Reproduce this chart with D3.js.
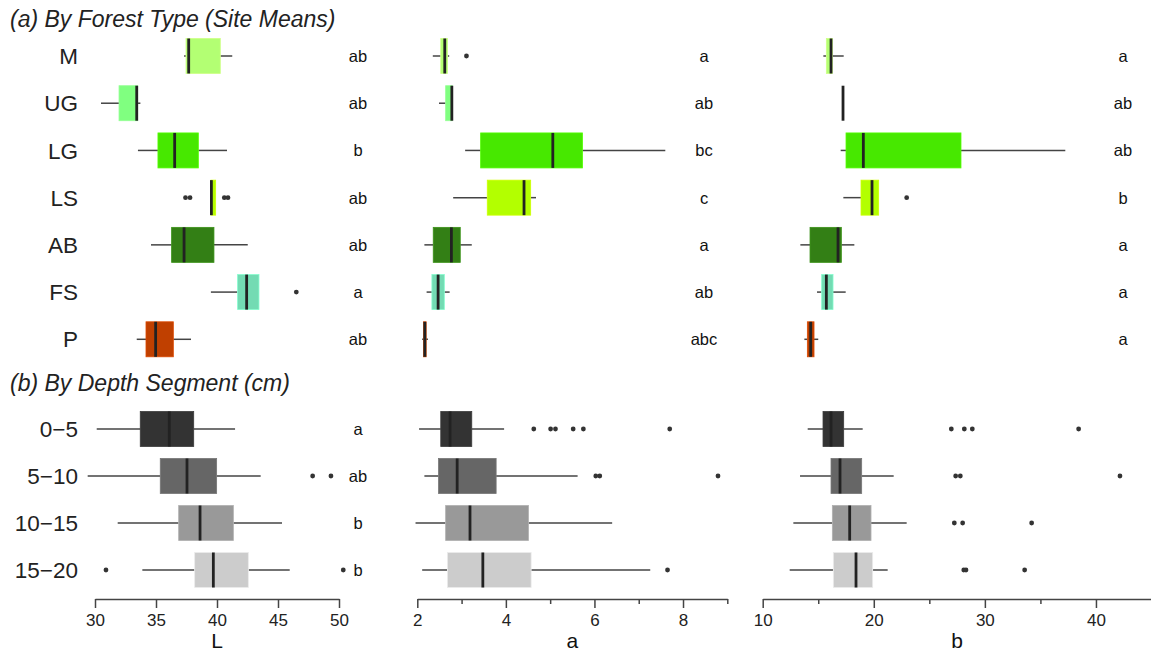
<!DOCTYPE html>
<html>
<head>
<meta charset="utf-8">
<script src="https://cdn.jsdelivr.net/npm/d3@7"></script>
<style>
  html, body { margin: 0; padding: 0; background: #fff; }
  svg { display: block; font-family: "Liberation Sans", Arial, sans-serif; }
</style>
</head>
<body>
<svg id="chart" width="1151" height="653"></svg>
<script>
// ---- Data -------------------------------------------------------------
// Summaries per group: [lower whisker, Q1, median, Q3, upper whisker]

const forestTypes = ["M", "UG", "LG", "LS", "AB", "FS", "P"];
const forestFills = ["#b3ff73", "#80ff80", "#47e800", "#b3ff00", "#337f15", "#73dbb3", "#c04000"];

const forestL = [
  [37.30, 37.46, 37.68, 40.27, 41.25],
  [30.49, 31.97, 33.42, 33.50, 33.72],
  [33.52, 35.16, 36.53, 38.47, 40.82],
  [39.50, 39.50, 39.54, 39.89, 39.89],
  [34.59, 36.28, 37.30, 39.75, 42.52],
  [39.50, 41.69, 42.43, 43.44, 43.44],
  [33.42, 34.18, 34.97, 36.42, 37.87]
];
const forestLOutliers = [[], [], [], [37.42, 37.79, 40.60, 40.90], [], [46.50], []];
const forestLLetters = ["ab", "ab", "b", "ab", "ab", "a", "ab"];

const forestA = [
  [2.35, 2.53, 2.62, 2.68, 2.72],
  [2.49, 2.64, 2.78, 2.79, 2.79],
  [3.08, 3.43, 5.06, 5.73, 7.60],
  [2.81, 3.58, 4.41, 4.56, 4.68],
  [2.16, 2.36, 2.77, 2.97, 3.23],
  [2.21, 2.33, 2.47, 2.61, 2.73],
  [2.11, 2.14, 2.17, 2.20, 2.24]
];
const forestAOutliers = [[3.11], [], [], [], [], [], []];
const forestALetters = ["a", "ab", "bc", "c", "a", "ab", "abc"];

const forestB = [
  [15.46, 15.73, 16.15, 16.27, 17.29],
  [17.23, 17.23, 17.23, 17.23, 17.23],
  [17.02, 17.50, 19.06, 27.85, 37.24],
  [17.26, 18.85, 19.84, 20.44, 20.44],
  [13.39, 14.26, 16.78, 17.08, 18.25],
  [14.89, 15.31, 15.73, 16.33, 17.47],
  [13.75, 14.02, 14.32, 14.62, 15.00]
];
const forestBOutliers = [[], [], [], [22.96], [], [], []];
const forestBLetters = ["a", "ab", "ab", "b", "a", "a", "a"];

const depthSegments = ["0\u22125", "5\u221210", "10\u221215", "15\u221220"];
const depthFills = ["#333333", "#666666", "#999999", "#cccccc"];

const depthL = [
  [30.14, 33.71, 36.09, 38.09, 41.48],
  [29.40, 35.35, 37.54, 39.97, 43.58],
  [31.86, 36.86, 38.61, 41.34, 45.33],
  [33.88, 38.17, 39.70, 42.57, 45.96]
];
const depthLOutliers = [[], [47.84, 49.34], [], [30.90, 50.35]];
const depthLLetters = ["a", "ab", "b", "b"];

const depthA = [
  [2.04, 2.53, 2.74, 3.23, 3.96],
  [2.16, 2.48, 2.90, 3.78, 5.62],
  [1.96, 2.64, 3.19, 4.51, 6.40],
  [2.11, 2.68, 3.48, 4.57, 7.26]
];
const depthAOutliers = [[4.63, 5.01, 5.12, 5.52, 5.75, 7.70], [6.03, 6.12, 8.79], [], [7.65]];

const depthB = [
  [14.05, 15.43, 16.15, 17.29, 19.00],
  [13.36, 16.15, 16.96, 18.91, 21.79],
  [12.76, 16.27, 17.83, 19.75, 22.96],
  [12.43, 16.36, 18.40, 19.90, 21.25]
];
const depthBOutliers = [[26.98, 28.15, 28.87, 38.44], [27.37, 27.79, 42.16], [27.25, 28.00, 34.21], [28.10, 28.30, 33.58]];

// Axis ticks and titles
const axisTitles = ["L", "a", "b"];
const axisDomains = [[30, 50], [2, 9], [10, 45]];
const majorTicks = [[30, 35, 40, 45, 50], [2, 4, 6, 8], [10, 20, 30, 40]];
const minorTicks = [[], [3, 5, 7, 9], [15, 25, 35, 45]];

// ---- Layout -----------------------------------------------------------
const svg = d3.select("#chart");
const colRanges = [[95, 339], [417.3, 727.3], [762.7, 1151.5]];
const letterX = [358, 704, 1123];
const axisY = 599;
const boxHalf = 17.5;

const xScales = axisDomains.map((d, i) => d3.scaleLinear().domain(d).range(colRanges[i]));
const yTop = d3.scalePoint().domain(forestTypes).range([56, 339.3]);
const yBottom = d3.scalePoint().domain(depthSegments).range([429, 570]);

function drawBoxes(g, x, y, cats, stats, outliers, fills) {
  cats.forEach((c, i) => {
    const s = stats[i];
    const cy = y(c);
    const grp = g.append("g");
    // whiskers
    grp.append("line")
      .attr("x1", x(s[0])).attr("x2", x(s[1]))
      .attr("y1", cy).attr("y2", cy)
      .attr("stroke", "#444").attr("stroke-width", 1.5);
    grp.append("line")
      .attr("x1", x(s[3])).attr("x2", x(s[4]))
      .attr("y1", cy).attr("y2", cy)
      .attr("stroke", "#444").attr("stroke-width", 1.5);
    // box
    grp.append("rect")
      .attr("x", x(s[1]))
      .attr("y", cy - boxHalf)
      .attr("width", Math.max(0, x(s[3]) - x(s[1])))
      .attr("height", boxHalf * 2)
      .attr("fill", fills[i])
      .attr("stroke", d3.color(fills[i]).brighter(0.4))
      .attr("stroke-width", 0.8);
    // median
    grp.append("line")
      .attr("x1", x(s[2])).attr("x2", x(s[2]))
      .attr("y1", cy - boxHalf).attr("y2", cy + boxHalf)
      .attr("stroke", "#222").attr("stroke-width", 2.8);
    // outliers
    grp.selectAll("circle.out")
      .data(outliers[i])
      .join("circle")
      .attr("class", "out")
      .attr("cx", v => x(v))
      .attr("cy", cy)
      .attr("r", 2.4)
      .attr("fill", "#333");
  });
}

function drawLetters(g, xPos, y, cats, letters) {
  g.selectAll("text.letter")
    .data(cats)
    .join("text")
    .attr("class", "letter")
    .attr("x", xPos)
    .attr("y", c => y(c))
    .attr("dy", "0.36em")
    .attr("text-anchor", "middle")
    .attr("font-size", 16.5)
    .attr("fill", "#111")
    .text((c, i) => letters[i]);
}

function drawRowLabels(g, y, cats) {
  g.selectAll("text.row")
    .data(cats)
    .join("text")
    .attr("class", "row")
    .attr("x", 78)
    .attr("y", c => y(c))
    .attr("dy", "0.36em")
    .attr("text-anchor", "end")
    .attr("font-size", 22.5)
    .attr("fill", "#222")
    .text(c => c);
}

// Titles
svg.append("text")
  .attr("x", 10).attr("y", 27)
  .attr("font-size", 23).attr("font-style", "italic").attr("fill", "#222")
  .text("(a) By Forest Type (Site Means)");
svg.append("text")
  .attr("x", 10).attr("y", 391)
  .attr("font-size", 23).attr("font-style", "italic").attr("fill", "#222")
  .text("(b) By Depth Segment (cm)");

// Upper section: forest types
const forestSection = svg.append("g");
drawRowLabels(forestSection, yTop, forestTypes);
[[forestL, forestLOutliers, forestLLetters],
 [forestA, forestAOutliers, forestALetters],
 [forestB, forestBOutliers, forestBLetters]].forEach(([stats, outs, letters], i) => {
  const g = forestSection.append("g");
  drawBoxes(g, xScales[i], yTop, forestTypes, stats, outs, forestFills);
  drawLetters(g, letterX[i], yTop, forestTypes, letters);
});

// Lower section: depth segments
const depthSection = svg.append("g");
drawRowLabels(depthSection, yBottom, depthSegments);
[[depthL, depthLOutliers], [depthA, depthAOutliers], [depthB, depthBOutliers]].forEach(([stats, outs], i) => {
  const g = depthSection.append("g");
  drawBoxes(g, xScales[i], yBottom, depthSegments, stats, outs, depthFills);
});
drawLetters(depthSection.append("g"), letterX[0], yBottom, depthSegments, depthLLetters);

// Axes
xScales.forEach((x, i) => {
  const major = svg.append("g")
    .attr("transform", `translate(0,${axisY})`)
    .call(d3.axisBottom(x).tickValues(majorTicks[i]).tickFormat(d3.format("d"))
      .tickSize(9).tickSizeOuter(0).tickPadding(6));
  major.select(".domain").attr("stroke", "#444").attr("stroke-width", 1.5);
  major.selectAll(".tick line").attr("stroke", "#444").attr("stroke-width", 1.5);
  major.selectAll(".tick text")
    .attr("font-size", 17).attr("fill", "#222")
    .attr("font-family", "Liberation Sans, Arial, sans-serif");

  if (minorTicks[i].length) {
    const minor = svg.append("g")
      .attr("transform", `translate(0,${axisY})`)
      .call(d3.axisBottom(x).tickValues(minorTicks[i]).tickSize(5).tickSizeOuter(0).tickFormat(""));
    minor.select(".domain").remove();
    minor.selectAll(".tick line").attr("stroke", "#444").attr("stroke-width", 1.5);
  }

  svg.append("text")
    .attr("x", (colRanges[i][0] + colRanges[i][1]) / 2)
    .attr("y", 648)
    .attr("text-anchor", "middle")
    .attr("font-size", 21)
    .attr("fill", "#111")
    .text(axisTitles[i]);
});
</script>
</body>
</html>
